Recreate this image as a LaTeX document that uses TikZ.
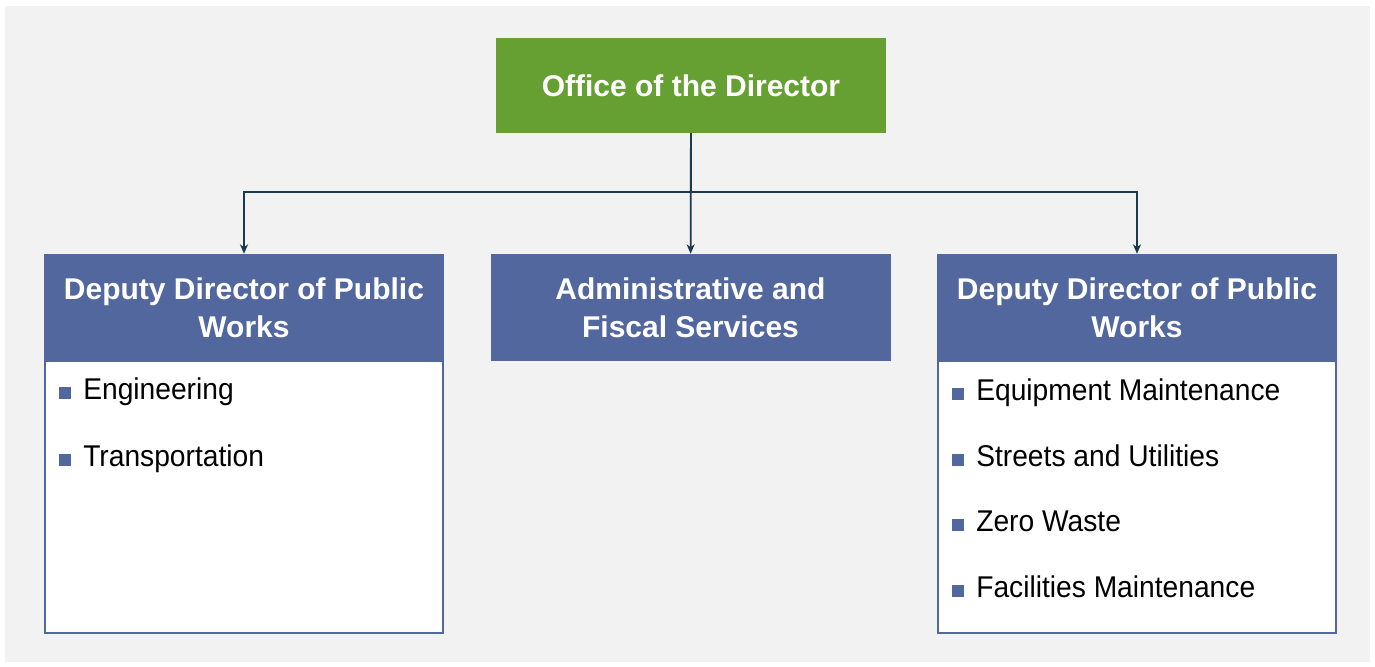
\documentclass[tikz,border=0pt]{standalone}
\usepackage{fontspec}
\setmainfont{Liberation Sans}
\newfontfamily\itemfont[FakeStretch=0.94]{Liberation Sans}
\usetikzlibrary{arrows.meta}
\definecolor{bgray}{HTML}{F2F2F2}
\definecolor{officegreen}{HTML}{67A032}
\definecolor{hdrblue}{HTML}{52679E}
\definecolor{linkcol}{HTML}{1B3A4B}
\newcommand{\bul}{{\color{hdrblue}\rule{9pt}{9pt}}\hspace{9pt}}
\tikzset{
    office/.style={fill=officegreen, text=white, font=\bfseries\fontsize{22.5}{27}\selectfont,
        minimum width=292.5pt, minimum height=71.25pt, inner sep=0pt},
    hdr/.style={fill=hdrblue, text=white, font=\bfseries\fontsize{22.5}{28.5}\selectfont,
        align=center, minimum width=300pt, minimum height=80.25pt, inner sep=0pt},
    listbox/.style={draw=hdrblue, line width=1.4pt, fill=white,
        minimum width=299pt, minimum height=204pt, inner sep=0pt},
    entry/.style={anchor=base west, inner sep=0pt, font=\itemfont\fontsize{22.5}{26}\selectfont},
    link/.style={draw=linkcol, line width=1.3pt}
}

\begin{document}
\begin{tikzpicture}[x=0.75pt, y=-0.75pt]
    \useasboundingbox (0, 0) rectangle (1375, 667);
    \fill[bgray] (5, 6) rectangle (1370, 662);

    \node (office) [office] at (691, 85.5) {Office of the Director};

    \node (body1) [listbox] at (244, 497) {};
    \node (body2) [listbox] at (1137, 497) {};

    \node (dep1) [hdr] at (244, 307.5) {Deputy Director of Public\\Works};
    \node (admin) [hdr] at (690.5, 307.5) {Administrative and\\Fiscal Services};
    \node (dep2) [hdr] at (1137, 307.5) {Deputy Director of Public\\Works};

    \node (eng) [entry] at (59, 399) {\bul Engineering};
    \node (trans) [entry] at (59, 466) {\bul Transportation};

    \node (equip) [entry] at (952, 400) {\bul Equipment Maintenance};
    \node (streets) [entry] at (952, 466) {\bul Streets and Utilities};
    \node (waste) [entry] at (952, 531) {\bul Zero Waste};
    \node (facil) [entry] at (952, 597) {\bul Facilities Maintenance};

    \coordinate (split) at (691, 192);
    \draw[link] (office) -- (split);
    \draw[link, -{Stealth[length=7pt, width=6pt, inset=2pt]}] (split) -| (dep1);
    \draw[link, -{Stealth[length=7pt, width=6pt, inset=2pt]}] (split) -| (dep2);
    \draw[link, -{Stealth[length=7pt, width=6pt, inset=2pt]}] (office) -- (admin);
\end{tikzpicture}
\end{document}
